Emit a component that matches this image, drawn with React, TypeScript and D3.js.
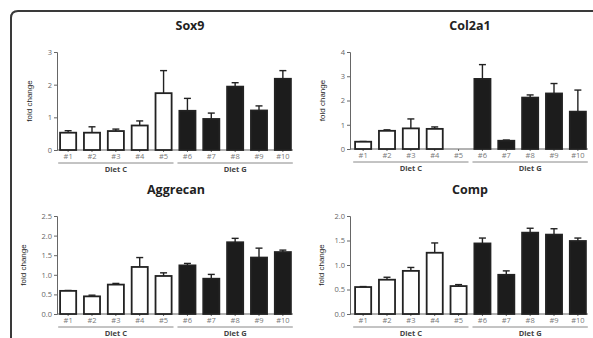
import React, { useRef, useEffect } from 'react';
import * as d3 from 'd3';

const categories = ["#1", "#2", "#3", "#4", "#5", "#6", "#7", "#8", "#9", "#10"];
const groups = [
  { name: "Diet C", members: ["#1", "#2", "#3", "#4", "#5"] },
  { name: "Diet G", members: ["#6", "#7", "#8", "#9", "#10"] },
];

const sox9Mean = [0.53, 0.53, 0.58, 0.75, 1.74, 1.2, 0.95, 1.94, 1.21, 2.18];
const sox9Err = [0.06, 0.18, 0.06, 0.14, 0.69, 0.38, 0.18, 0.12, 0.14, 0.25];
const col2a1Mean = [0.3, 0.75, 0.85, 0.83, 0, 2.89, 0.34, 2.12, 2.29, 1.54];
const col2a1Err = [0.01, 0.04, 0.39, 0.08, 0, 0.59, 0.03, 0.11, 0.41, 0.89];
const aggrecanMean = [0.59, 0.45, 0.75, 1.2, 0.97, 1.24, 0.9, 1.83, 1.44, 1.58];
const aggrecanErr = [0.01, 0.03, 0.03, 0.24, 0.08, 0.05, 0.11, 0.1, 0.24, 0.05];
const compMean = [0.55, 0.7, 0.88, 1.25, 0.57, 1.44, 0.8, 1.66, 1.62, 1.49];
const compErr = [0.01, 0.05, 0.07, 0.2, 0.03, 0.11, 0.08, 0.09, 0.12, 0.06];

const sox9Ticks = [0, 1, 2, 3];
const col2a1Ticks = [0, 1, 2, 3, 4];
const aggrecanTicks = [0, 0.5, 1, 1.5, 2, 2.5];
const compTicks = [0, 0.5, 1, 1.5, 2];

const panels = [
  { title: "Sox9", mean: sox9Mean, err: sox9Err, ticks: sox9Ticks, fmt: "d", x0: 58, x1: 293, yTop: 52, yBot: 150, axisX: 57, titleX: 190, labelX: 32 },
  { title: "Col2a1", mean: col2a1Mean, err: col2a1Err, ticks: col2a1Ticks, fmt: "d", x0: 353, x1: 588, yTop: 52, yBot: 149, axisX: 350, titleX: 470, labelX: 325 },
  { title: "Aggrecan", mean: aggrecanMean, err: aggrecanErr, ticks: aggrecanTicks, fmt: ".1f", x0: 58, x1: 293, yTop: 216, yBot: 314, axisX: 57, titleX: 176, labelX: 26 },
  { title: "Comp", mean: compMean, err: compErr, ticks: compTicks, fmt: ".1f", x0: 353, x1: 588, yTop: 216, yBot: 314, axisX: 350, titleX: 470, labelX: 324 },
];

const App = () => {
  const svgRef = useRef<SVGSVGElement>(null);

  useEffect(() => {
    const svg = d3.select(svgRef.current);
    svg.selectAll("*").remove();

    // outer frame with rounded corner
    svg.append("path")
      .attr("d", "M11,340 L11,18 Q11,11 18,11 L595,11")
      .attr("fill", "none")
      .attr("stroke", "#3a3a3a")
      .attr("stroke-width", 2);

    panels.forEach(p => {
      const g = svg.append("g");
      const x = d3.scaleBand().domain(categories).range([p.x0, p.x1]).paddingInner(0.25).paddingOuter(0.05);
      const y = d3.scaleLinear().domain([0, p.ticks[p.ticks.length - 1]]).range([p.yBot, p.yTop]);

      g.append("text")
        .attr("x", p.titleX).attr("y", p.yTop - 22)
        .attr("text-anchor", "middle")
        .attr("font-family", "Open Sans, sans-serif")
        .attr("font-weight", "bold")
        .attr("font-size", 12.5)
        .attr("fill", "#222")
        .text(p.title);

      // y axis
      const yAxis = g.append("g")
        .attr("transform", `translate(${p.axisX},0)`)
        .call(d3.axisLeft(y).tickValues(p.ticks).tickFormat(d3.format(p.fmt)).tickSize(3).tickPadding(2));
      yAxis.select(".domain").attr("stroke", "#666");
      yAxis.selectAll(".tick line").attr("stroke", "#666");
      yAxis.selectAll("text").attr("font-family", "Open Sans, sans-serif").attr("font-size", 7.5).attr("fill", "#666");

      g.append("text")
        .attr("transform", `translate(${p.labelX},${(p.yTop + p.yBot) / 2}) rotate(-90)`)
        .attr("text-anchor", "middle")
        .attr("font-family", "Liberation Sans Narrow, Arial Narrow, sans-serif")
        .attr("font-size", 8)
        .attr("fill", "#222")
        .text("fold change");

      // x axis
      const xAxis = g.append("g")
        .attr("transform", `translate(0,${p.yBot})`)
        .call(d3.axisBottom(x).tickSize(2).tickPadding(2).tickSizeOuter(0));
      xAxis.select(".domain").attr("stroke", "#666").attr("d", `M${p.axisX},0H${p.x1}`);
      xAxis.selectAll(".tick line").attr("stroke", "#666");
      xAxis.selectAll("text").attr("font-family", "Open Sans, sans-serif").attr("font-size", 7.5).attr("fill", "#777");

      const rows = categories.map((c, i) => ({ c, i, v: p.mean[i], e: p.err[i] }));

      // error bars (upper only)
      const eb = g.selectAll(".eb").data(rows.filter(d => d.v > 0)).enter().append("g");
      eb.append("line")
        .attr("x1", d => x(d.c)! + x.bandwidth() / 2)
        .attr("x2", d => x(d.c)! + x.bandwidth() / 2)
        .attr("y1", d => y(d.v))
        .attr("y2", d => y(d.v + d.e))
        .attr("stroke", "#222").attr("stroke-width", 1.4);
      eb.append("line")
        .attr("x1", d => x(d.c)! + x.bandwidth() / 2 - 3.5)
        .attr("x2", d => x(d.c)! + x.bandwidth() / 2 + 3.5)
        .attr("y1", d => y(d.v + d.e))
        .attr("y2", d => y(d.v + d.e))
        .attr("stroke", "#222").attr("stroke-width", 1.4);

      g.selectAll(".bar").data(rows.filter(d => d.v > 0)).enter().append("rect")
        .attr("x", d => x(d.c)! + 0.9)
        .attr("width", x.bandwidth() - 1.8)
        .attr("y", d => y(d.v))
        .attr("height", d => y(0) - y(d.v))
        .attr("fill", d => d.i < 5 ? "#fff" : "#1c1c1c")
        .attr("stroke", "#222")
        .attr("stroke-width", 1.8);

      // group underlines and labels
      groups.forEach(gr => {
        const a = x(gr.members[0])! - 1;
        const b = x(gr.members[gr.members.length - 1])! + x.bandwidth() + 1;
        g.append("line")
          .attr("x1", a).attr("x2", b)
          .attr("y1", p.yBot + 13).attr("y2", p.yBot + 13)
          .attr("stroke", "#888").attr("stroke-width", 1);
        g.append("text")
          .attr("x", (a + b) / 2).attr("y", p.yBot + 22)
          .attr("text-anchor", "middle")
          .attr("font-family", "Open Sans, sans-serif")
          .attr("font-weight", "bold")
          .attr("font-size", 7.5)
          .attr("fill", "#444")
          .text(gr.name);
      });
    });
  }, []);

  return (
    <svg ref={svgRef} width={593} height={338}
      style={{ position: "absolute", left: 0, top: 0, background: "#fff" }} />
  );
};

export default App;
